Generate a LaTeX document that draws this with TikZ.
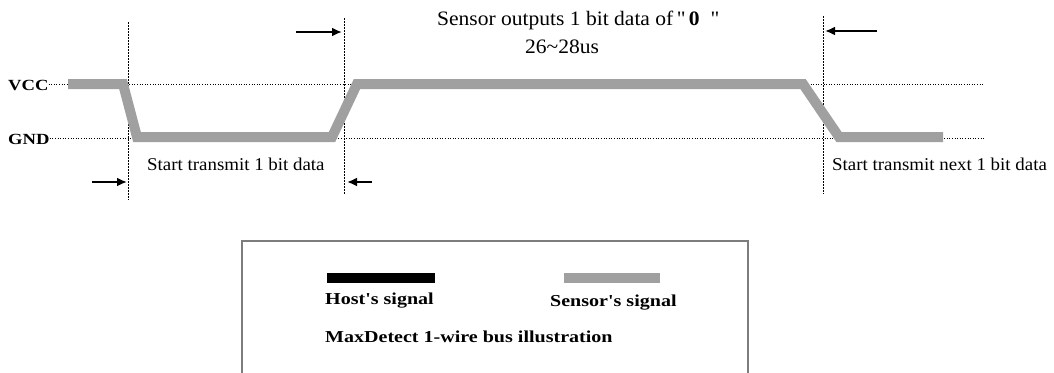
\documentclass[tikz,border=0pt]{standalone}
\usepackage{fontspec}
\setmainfont{Liberation Serif}
\newfontfamily\regfont[FakeStretch=1.05]{Liberation Serif}
\newfontfamily\boldfont[FakeStretch=1.2]{Liberation Serif}
\usetikzlibrary{arrows.meta}
\definecolor{sig}{RGB}{160,160,160}
\definecolor{frame}{RGB}{125,125,125}
\tikzset{
  level/.style={draw=black, line width=0.8pt, dash pattern=on 1pt off 1.6pt},
  marker/.style={draw=black, line width=0.8pt, dash pattern=on 1.5pt off 1.5pt},
  sensor/.style={draw=sig, line width=10pt},
  timearrow/.style={draw=black, line width=2.5pt, -{Latex[length=10pt,width=9pt]}},
  plain/.style={inner sep=0pt, font=\regfont\fontsize{18}{20}\selectfont, text=black},
  toptext/.style={inner sep=0pt, font=\regfont\fontsize{20.5}{22}\selectfont, text=black},
  legend/.style={inner sep=0pt, font=\boldfont\bfseries\fontsize{16.7}{18}\selectfont, text=black},
  lvl/.style={inner sep=0pt, font=\boldfont\bfseries\fontsize{15.5}{17}\selectfont, text=black},
}
\begin{document}
\begin{tikzpicture}[x=1pt,y=-1pt]
\useasboundingbox (0,0) rectangle (1054,372);

% level labels
\node[lvl, anchor=base west] (vcc) at (8,90) {VCC};
\node[lvl, anchor=base west] (gnd) at (8,144) {GND};

% dotted level lines
\coordinate (vccR) at (984,84);
\coordinate (gndR) at (984,138);
\draw[level] (vcc.east |- 0,84) -- (vccR);
\draw[level] (gnd.east |- 0,138) -- (gndR);

% vertical markers
\coordinate (m1t) at (128,22);  \coordinate (m1b) at (128,200);
\coordinate (m2t) at (344,18);  \coordinate (m2b) at (344,195);
\coordinate (m3t) at (823,16);  \coordinate (m3b) at (823,194);
\draw[marker] (m1t) -- (m1b);
\draw[marker] (m2t) -- (m2b);
\draw[marker] (m3t) -- (m3b);

% sensor signal
\draw[sensor] (68,84) -- (123,84) -- (137,137) -- (332,137) -- (357,84)
  -- (803,84) -- (839,137) -- (943,137);

% arrows
\coordinate (a1s) at (92,182);  \coordinate (a1e) at (127,182);
\coordinate (a2s) at (372,182); \coordinate (a2e) at (347,182);
\coordinate (a3s) at (296,32);  \coordinate (a3e) at (342,32);
\coordinate (a4s) at (877,31);  \coordinate (a4e) at (825,31);
\draw[timearrow] (a1s) -- (a1e);
\draw[timearrow] (a2s) -- (a2e);
\draw[timearrow] (a3s) -- (a3e);
\draw[timearrow] (a4s) -- (a4e);

% texts
\node[plain, anchor=base west] (start1) at (147,170) {Start transmit 1 bit data};
\node[plain, anchor=base west] (start2) at (832,170) {Start transmit next 1 bit data};
\node[toptext, anchor=base west] (sensout) at (437,25) {Sensor outputs 1 bit data of\,"\,{\bfseries 0}\ \ "};
\node[toptext, anchor=base west] (dur) at (525,53) {26\textasciitilde 28us};

% legend box
\draw[draw=frame, line width=1.5pt] (242,373) -- (242,241) -- (748,241) -- (748,373);
\fill[black] (327,273) rectangle (435,283);
\fill[sig] (564,273) rectangle (660,283);
\node[legend, anchor=base west] (host) at (325,304) {Host's signal};
\node[legend, anchor=base west] (sens) at (550,306) {Sensor's signal};
\node[legend, anchor=base west] (title) at (325,342) {MaxDetect 1-wire bus illustration};
\end{tikzpicture}
\end{document}
